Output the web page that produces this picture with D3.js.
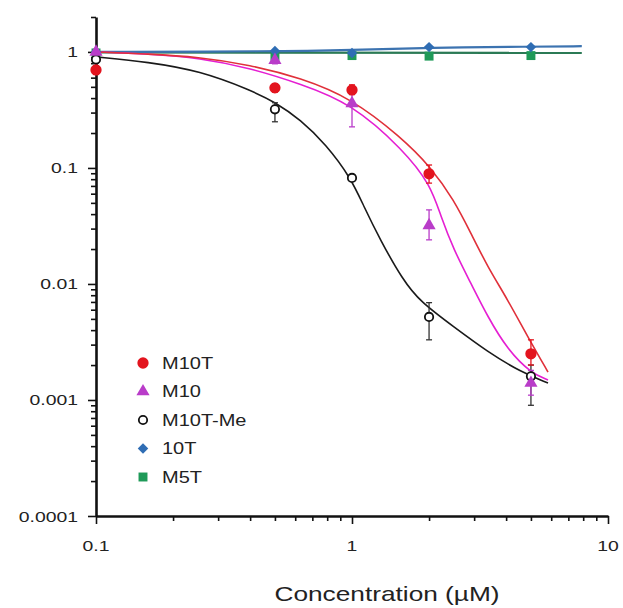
<!DOCTYPE html>
<html><head><meta charset="utf-8">
<script src="https://cdn.jsdelivr.net/npm/d3@7"></script>
<style>
body{margin:0;background:#fff}
svg text{font-family:"Liberation Sans",Arial,sans-serif;fill:#222}
</style>
</head><body>
<svg id="c" width="623" height="608"></svg>
<script>
// ---- data ----
const conc = [0.1, 0.5, 1, 2, 5];
const m10t   = [0.70, 0.49, 0.47, 0.089, 0.0025];
const m10tLo = [0.64, 0.45, 0.43, 0.074, 0.0020];
const m10tHi = [0.76, 0.53, 0.52, 0.106, 0.0033];
const m10    = [1.0, 0.85, 0.36, 0.032, 0.0014];
const m10Lo  = [0.95, 0.79, 0.226, 0.024, 0.0011];
const m10Hi  = [1.05, 0.91, 0.43, 0.0435, 0.0018];
const m10tme   = [0.86, 0.32, 0.082, 0.0052, 0.0016];
const m10tmeLo = [0.80, 0.25, 0.078, 0.0033, 0.0009];
const m10tmeHi = [0.92, 0.365, 0.086, 0.0069, 0.0020];
const t10 = [1.0, 1.02, 0.98, 1.10, 1.10];
const m5t = [0.98, 0.92, 0.93, 0.92, 0.93];

// fitted curves
const fitM10TX = [0.1, 0.16, 0.25, 0.4, 0.63, 0.99, 1.55, 2.03, 2.5, 2.91, 3.39, 4.06, 4.86, 5.83];
const fitM10TY = [1.0, 0.96, 0.906, 0.773, 0.597, 0.401, 0.185, 0.102, 0.053, 0.0275, 0.014, 0.0073, 0.0035, 0.00174];
const fitM10X = [0.1, 0.16, 0.255, 0.4, 0.63, 0.99, 1.59, 2.03, 2.22, 2.5, 2.91, 3.39, 4.06, 5.0, 5.83];
const fitM10Y = [1.0, 0.96, 0.888, 0.727, 0.53, 0.363, 0.143, 0.0713, 0.0385, 0.0196, 0.0102, 0.0052, 0.0027, 0.00171, 0.00149];
const fitMeX = [0.1, 0.16, 0.255, 0.4, 0.5, 0.63, 0.79, 0.99, 1.11, 1.29, 1.58, 1.85, 2.5, 3.39, 4.57, 5.83];
const fitMeY = [0.906, 0.82, 0.686, 0.47, 0.37, 0.26, 0.16, 0.082, 0.047, 0.0239, 0.0108, 0.0070, 0.00426, 0.00259, 0.00174, 0.0014];
const fit10TX = [0.1, 0.5, 1, 2, 5, 7.9];
const fit10TY = [1.0, 1.01, 1.04, 1.09, 1.11, 1.12];
const fitM5TX = [0.1, 7.9];
const fitM5TY = [0.99, 0.98];

const yMajor = [1, 0.1, 0.01, 0.001, 0.0001];
const yLabels = ["1", "0.1", "0.01", "0.001", "0.0001"];
const xMajor = [0.1, 1, 10];
const xLabels = ["0.1", "1", "10"];
const legendNames = ["M10T", "M10", "M10T-Me", "10T", "M5T"];
const xTitle = "Concentration (\u00B5M)";

// ---- chart ----
const svg = d3.select("#c");
const x = d3.scaleLog().domain([0.1, 10]).range([96, 608]);
const y = d3.scaleLog().domain([1e-4, 2]).range([516, 17]);
const SX = 1.25;

function stext(px, py, str, size, anchor) {
  return svg.append("text")
    .attr("transform", `translate(${px},${py}) scale(${SX},1)`)
    .attr("text-anchor", anchor)
    .style("font-size", size + "px")
    .text(str);
}

const minorX = [], minorY = [];
[0.1, 1].forEach(d => { for (let k = 2; k <= 9; k++) minorX.push(d * k); });
[1e-4, 1e-3, 1e-2, 1e-1, 1].forEach(d => { for (let k = 2; k <= 9; k++) if (d * k <= 2.0001) minorY.push(d * k); });

// axes
const gx = svg.append("g").attr("transform", "translate(0,516)");
gx.call(d3.axisBottom(x).tickValues(xMajor).tickSize(8).tickSizeOuter(0).tickFormat(""));
const gx2 = svg.append("g").attr("transform", "translate(0,516)");
gx2.call(d3.axisBottom(x).tickValues(minorX).tickSize(5).tickSizeOuter(0).tickFormat(""));
gx2.select(".domain").remove();
const gy = svg.append("g").attr("transform", "translate(96,0)");
gy.call(d3.axisLeft(y).tickValues(yMajor).tickSize(8).tickSizeOuter(0).tickFormat(""));
const gy2 = svg.append("g").attr("transform", "translate(96,0)");
gy2.call(d3.axisLeft(y).tickValues(minorY).tickSize(5).tickSizeOuter(0).tickFormat(""));
gy2.select(".domain").remove();
svg.selectAll(".domain").attr("stroke", "#111").attr("stroke-width", 2.6);
svg.selectAll(".tick line").attr("stroke", "#111").attr("stroke-width", 1.6);

yMajor.forEach((v, i) => stext(78, y(v) + 5.5, yLabels[i], 15.5, "end"));
xMajor.forEach((v, i) => stext(x(v), 551, xLabels[i], 15.5, "middle"));
stext(387, 601, xTitle, 21, "middle");

// curves
const line = d3.line().x(d => x(d[0])).y(d => y(d[1])).curve(d3.curveBasis);
function curve(xs, ys, color, w) {
  svg.append("path").datum(xs.map((v, i) => [v, ys[i]]))
    .attr("d", line).attr("fill", "none").attr("stroke", color).attr("stroke-width", w);
}
const cRed = "#e3141e", cMag = "#e51fd2", cMagM = "#b93cc9", cBlk = "#1a1a1a", cBlue = "#2f6db4", cGreen = "#1f9a58";
curve(fitM5TX, fitM5TY, "#2b7a55", 2.2);
curve(fit10TX, fit10TY, "#3c73b0", 2.2);
curve(fitMeX, fitMeY, cBlk, 1.6);
curve(fitM10X, fitM10Y, cMag, 1.6);
curve(fitM10TX, fitM10TY, "#e0303a", 1.6);

// error bars
function errs(vals, lo, hi, color) {
  const g = svg.append("g").attr("stroke", color).attr("stroke-width", 1.3);
  conc.forEach((c, i) => {
    const cx = x(c);
    g.append("line").attr("x1", cx).attr("x2", cx).attr("y1", y(lo[i])).attr("y2", y(hi[i]));
    g.append("line").attr("x1", cx - 3).attr("x2", cx + 3).attr("y1", y(lo[i])).attr("y2", y(lo[i]));
    g.append("line").attr("x1", cx - 3).attr("x2", cx + 3).attr("y1", y(hi[i])).attr("y2", y(hi[i]));
  });
}
errs(m10tme, m10tmeLo, m10tmeHi, "#333");
errs(m10, m10Lo, m10Hi, cMagM);
errs(m10t, m10tLo, m10tHi, cRed);

// markers
const sym = {
  circle: d3.symbol().type(d3.symbolCircle).size(100)(),
  tri: d3.symbol().type(d3.symbolTriangle).size(75)(),
  open: d3.symbol().type(d3.symbolCircle).size(55)(),
  diamond: d3.symbol().type(d3.symbolSquare).size(55)(),
  square: d3.symbol().type(d3.symbolSquare).size(80)()
};
function marker(px, py, kind) {
  const p = svg.append("path").attr("d", sym[kind]);
  let tr = `translate(${px},${py})`;
  if (kind === "diamond") tr += " rotate(45)";
  p.attr("transform", tr);
  if (kind === "circle") p.attr("fill", cRed);
  if (kind === "tri") p.attr("fill", cMagM);
  if (kind === "open") p.attr("fill", "#fff").attr("stroke", "#111").attr("stroke-width", 1.8);
  if (kind === "diamond") p.attr("fill", cBlue);
  if (kind === "square") p.attr("fill", cGreen);
}
conc.forEach((c, i) => marker(x(c), y(m5t[i]), "square"));
conc.forEach((c, i) => marker(x(c), y(t10[i]), "diamond"));
conc.forEach((c, i) => marker(x(c), y(m10tme[i]), "open"));
conc.forEach((c, i) => marker(x(c), y(m10[i]), "tri"));
conc.forEach((c, i) => marker(x(c), y(m10t[i]), "circle"));

// legend
const kinds = ["circle", "tri", "open", "diamond", "square"];
legendNames.forEach((n, i) => {
  const ly = 363 + i * 28.5;
  marker(143, ly, kinds[i]);
  stext(162, ly + 5.5, n, 16, "start");
});
</script>
</body></html>
